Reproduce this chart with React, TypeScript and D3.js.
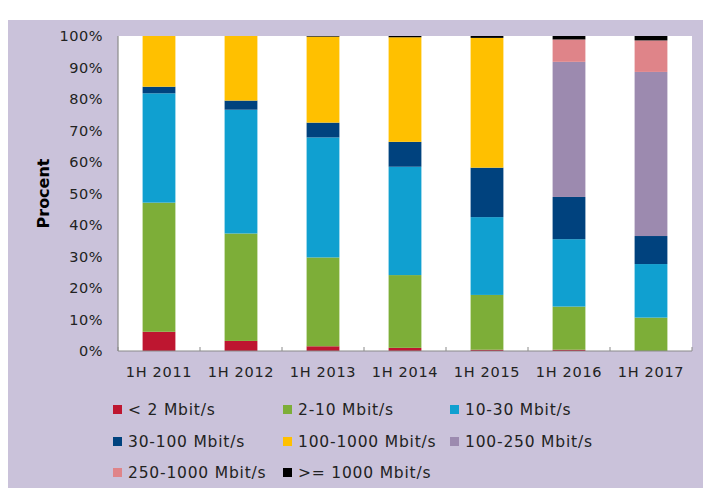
import React from "react";
import * as d3 from "d3";

const categories = ["1H 2011", "1H 2012", "1H 2013", "1H 2014", "1H 2015", "1H 2016", "1H 2017"];
const seriesNames = [
  "< 2 Mbit/s",
  "2-10 Mbit/s",
  "10-30 Mbit/s",
  "30-100 Mbit/s",
  "100-1000 Mbit/s",
  "100-250 Mbit/s",
  "250-1000 Mbit/s",
  ">= 1000 Mbit/s",
];
const below2 = [6.1, 3.2, 1.5, 1.0, 0.4, 0.4, 0.0];
const s2to10 = [41.0, 34.1, 28.2, 23.1, 17.4, 13.7, 10.6];
const s10to30 = [34.7, 39.3, 38.1, 34.4, 24.7, 21.4, 17.0];
const s30to100 = [2.1, 2.9, 4.7, 7.9, 15.7, 13.4, 8.9];
const s100to1000 = [16.1, 20.5, 27.3, 33.2, 41.2, 0, 0];
const s100to250 = [0, 0, 0, 0, 0, 42.9, 52.1];
const s250to1000 = [0, 0, 0, 0, 0, 7.1, 10.0];
const s1000plus = [0, 0, 0.2, 0.4, 0.6, 1.1, 1.4];
const yTicks = [0, 10, 20, 30, 40, 50, 60, 70, 80, 90, 100];
const colors = ["#BE1630", "#7DAE38", "#10A0D0", "#00427E", "#FFC000", "#9C8AAF", "#DF8489", "#000000"];

const seriesValues = [below2, s2to10, s10to30, s30to100, s100to1000, s100to250, s250to1000, s1000plus];

const W = 703;
const H = 490;
const plot = { left: 118, right: 692, top: 36, bottom: 351 };
const FONT = "'DejaVu Sans', Verdana, sans-serif";

export default function App() {
  const x = d3
    .scaleBand<string>()
    .domain(categories)
    .range([plot.left, plot.right])
    .paddingInner(0.6)
    .paddingOuter(0.3);
  const y = d3.scaleLinear().domain([0, 100]).range([plot.bottom, plot.top]);

  const rows = categories.map((c, i) => {
    const r: Record<string, any> = { cat: c };
    seriesNames.forEach((s, k) => (r[s] = seriesValues[k][i]));
    return r;
  });
  const stacked = d3.stack<any>().keys(seriesNames)(rows);

  const step = x.step();
  const boundaries = d3.range(categories.length + 1).map((i) => plot.left + i * step);

  const legendCols = [113, 283, 450];
  const legendRows = [415, 447, 478];

  return (
    <svg
      width={W}
      height={H}
      style={{ position: "absolute", left: 0, top: 0, display: "block" }}
      fontFamily={FONT}
    >
      <rect x={0} y={0} width={W} height={H} fill="#ffffff" />
      <rect x={8} y={20} width={W - 8} height={468} fill="#CAC2DA" />
      <rect x={plot.left} y={plot.top} width={plot.right - plot.left} height={plot.bottom - plot.top} fill="#ffffff" />

      {stacked.map((layer, k) => (
        <g key={layer.key} fill={colors[k]}>
          {layer.map((d, i) =>
            d[1] - d[0] > 0 ? (
              <rect
                key={i}
                x={x(categories[i])}
                y={y(d[1])}
                width={x.bandwidth()}
                height={y(d[0]) - y(d[1])}
              />
            ) : null
          )}
        </g>
      ))}

      <line x1={plot.left} x2={plot.left} y1={plot.top} y2={plot.bottom} stroke="#8a8a8a" strokeWidth={1.2} />
      <line x1={plot.left} x2={plot.right} y1={plot.bottom} y2={plot.bottom} stroke="#8a8a8a" strokeWidth={1.2} />
      {boundaries.map((bx, i) => (
        <line key={i} x1={bx} x2={bx} y1={plot.bottom} y2={plot.bottom - 4} stroke="#8a8a8a" strokeWidth={1} />
      ))}

      {yTicks.map((t) => (
        <text key={t} x={103} y={y(t)} dy="0.36em" textAnchor="end" fontSize={14.5} letterSpacing={0.5} fill="#222">
          {t}%
        </text>
      ))}

      {categories.map((c) => (
        <text key={c} x={(x(c) as number) + x.bandwidth() / 2} y={377} textAnchor="middle" fontSize={14.5} letterSpacing={0.7} fill="#222">
          {c}
        </text>
      ))}

      <text
        transform={`translate(49, ${(plot.top + plot.bottom) / 2}) rotate(-90)`}
        textAnchor="middle"
        fontSize={16}
        fontWeight="bold"
        fill="#000"
      >
        Procent
      </text>

      {seriesNames.map((s, k) => {
        const col = k % 3;
        const row = Math.floor(k / 3);
        const lx = legendCols[col];
        const ly = legendRows[row];
        return (
          <g key={s}>
            <rect x={lx} y={ly - 10} width={9} height={9} fill={colors[k]} />
            <text x={lx + 15} y={ly} fontSize={15.5} letterSpacing={0.8} fill="#222">
              {s}
            </text>
          </g>
        );
      })}
    </svg>
  );
}
